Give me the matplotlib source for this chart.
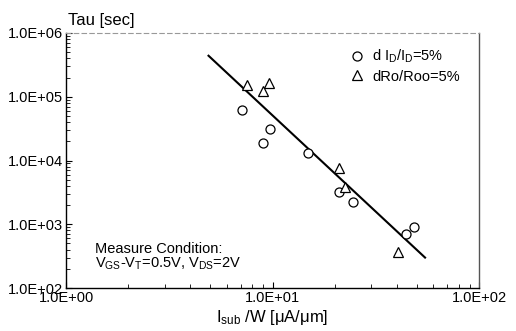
import matplotlib
matplotlib.use("Agg")
import matplotlib.pyplot as plt
from matplotlib.ticker import LogLocator, NullFormatter, FixedLocator

plt.rcParams['font.family'] = ['Liberation Sans', 'DejaVu Sans']
plt.rcParams['mathtext.fontset'] = 'custom'
plt.rcParams['mathtext.rm'] = 'Liberation Sans'
plt.rcParams['mathtext.it'] = 'Liberation Sans'

# Substrate current per width [uA/um] vs. lifetime [sec]
circ_x = [7.1, 9.7, 9.0, 14.9, 21.1, 24.6, 44.2, 48.6]
circ_y = [6.2e4, 3.1e4, 1.86e4, 1.32e4, 3170, 2260, 695, 896]

tri_x = [7.5, 9.65, 9.0, 21.0, 22.4, 40.7]
tri_y = [1.53e5, 1.66e5, 1.24e5, 7710, 3880, 371]

# Fitted lifetime line endpoints
fit_x = [4.9, 54.8]
fit_y = [4.4e5, 300]

xticks = [1, 10, 100]
xtick_labels = ["1.0E+00", "1.0E+01", "1.0E+02"]
yticks = [1e2, 1e3, 1e4, 1e5, 1e6]
ytick_labels = ["1.0E+02", "1.0E+03", "1.0E+04", "1.0E+05", "1.0E+06"]

fig = plt.figure(figsize=(5.16, 3.31), dpi=100)
ax = fig.add_axes([66/516, 1-288/331, 413/516, 255/331])

ax.set_xscale('log')
ax.set_yscale('log')
ax.set_xlim(1, 100)
ax.set_ylim(1e2, 1e6)

ax.plot(fit_x, fit_y, color='black', lw=1.5, zorder=2)
ax.plot(circ_x, circ_y, linestyle='none', marker='o', ms=6.5, mfc='white',
        mec='black', mew=0.9, label=r'd I$_D$/I$_D$=5%', zorder=3)
ax.plot(tri_x, tri_y, linestyle='none', marker='^', ms=6.5, mfc='white',
        mec='black', mew=0.9, label='dRo/Roo=5%', zorder=3)

ax.xaxis.set_major_locator(FixedLocator(xticks))
ax.set_xticklabels(xtick_labels)
ax.yaxis.set_major_locator(FixedLocator(yticks))
ax.set_yticklabels(ytick_labels)
ax.xaxis.set_minor_locator(LogLocator(base=10, subs=range(2, 10)))
ax.yaxis.set_minor_locator(LogLocator(base=10, subs=range(2, 10)))
ax.xaxis.set_minor_formatter(NullFormatter())
ax.yaxis.set_minor_formatter(NullFormatter())

ax.tick_params(axis='both', which='both', direction='in', top=False, right=False,
               labelsize=10.5, pad=2)
ax.tick_params(axis='both', which='major', length=4, width=0.8)
ax.tick_params(axis='both', which='minor', length=3, width=0.6)

ax.spines['left'].set_linewidth(1.0)
ax.spines['bottom'].set_linewidth(1.0)
ax.spines['top'].set_color('#999999')
ax.spines['top'].set_linewidth(0.8)
ax.spines['top'].set_linestyle((0, (4, 3)))
ax.spines['right'].set_color('#555555')
ax.spines['right'].set_linewidth(1.0)

ax.text(0.005, 1.02, 'Tau [sec]', transform=ax.transAxes, fontsize=12,
        ha='left', va='bottom')
ax.set_xlabel(r'I$_{sub}$ /W [μA/μm]', fontsize=12, labelpad=2)

ax.text(0.07, 0.153, 'Measure Condition:', transform=ax.transAxes, fontsize=10.5,
        ha='left', va='center')
ax.text(0.07, 0.094, r'V$_{GS}$-V$_T$=0.5V, V$_{DS}$=2V', transform=ax.transAxes,
        fontsize=10.5, ha='left', va='center')

ax.legend(loc='upper left', bbox_to_anchor=(0.67, 0.965), frameon=False,
          fontsize=10.5, handletextpad=0.4, labelspacing=0.3, handlelength=1.2,
          borderaxespad=0)

fig.savefig('out.png', dpi=100)
